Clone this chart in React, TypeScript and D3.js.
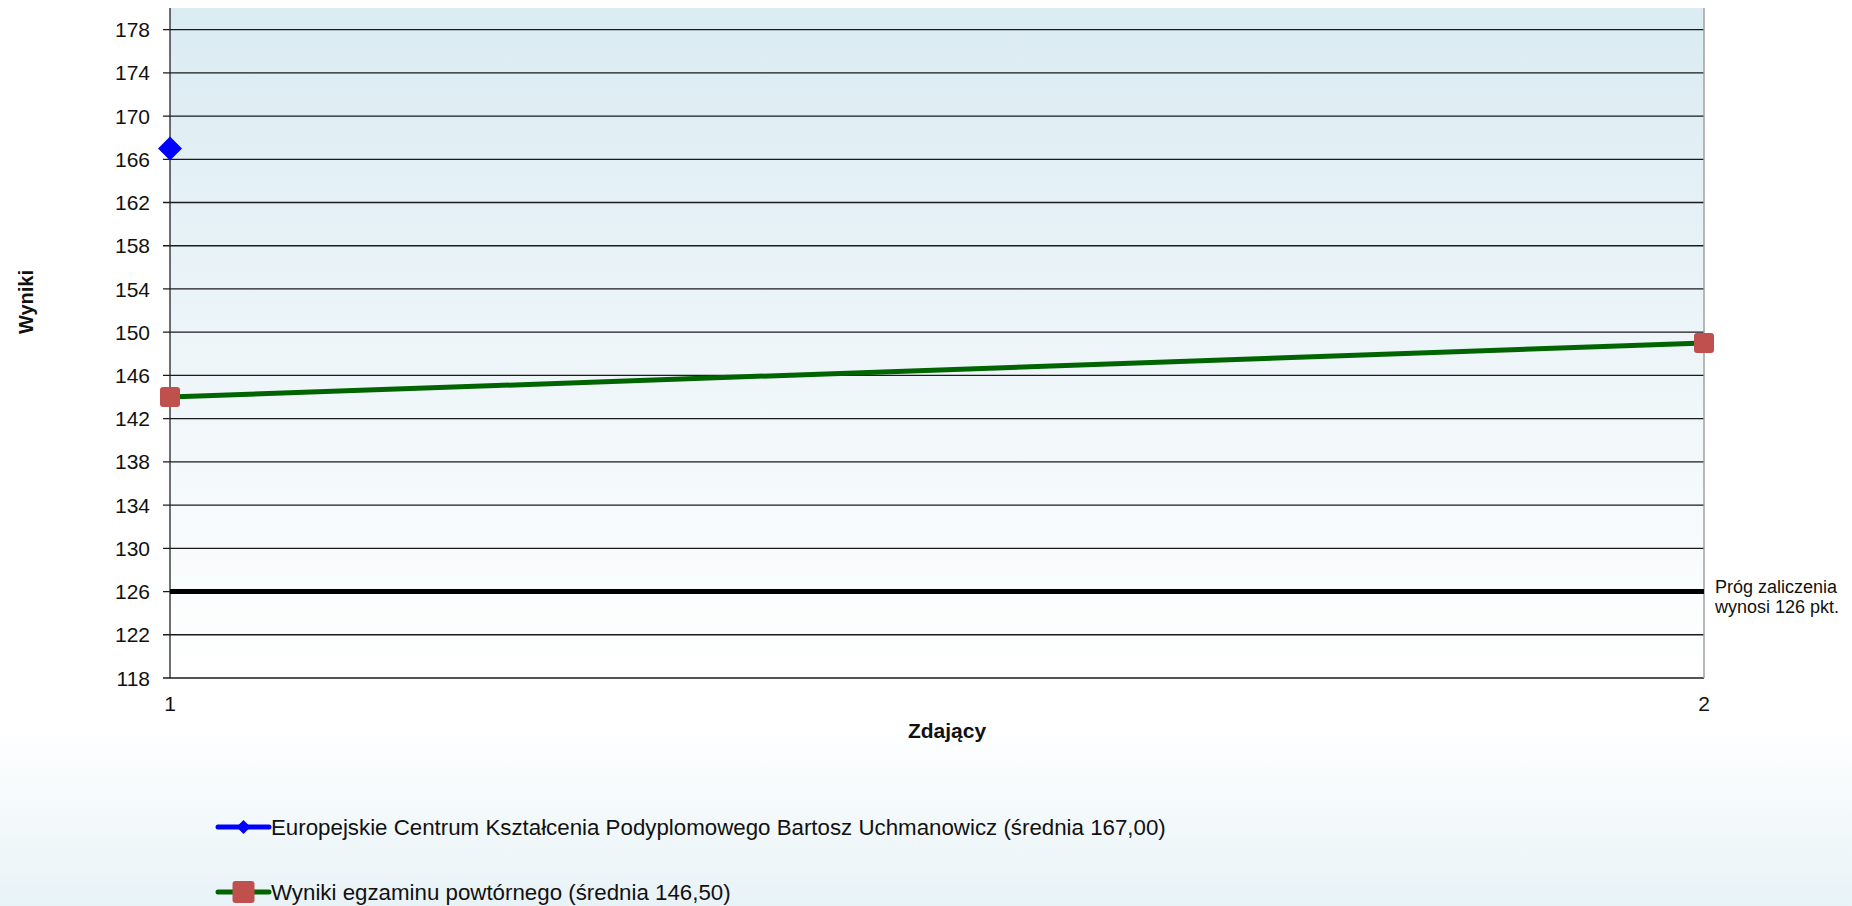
import React from "react";
import * as d3 from "d3";

const categories = [1, 2];
const seriesNames = [
  "Europejskie Centrum Kształcenia Podyplomowego Bartosz Uchmanowicz (średnia 167,00)",
  "Wyniki egzaminu powtórnego (średnia 146,50)",
];
const centerValues: (number | null)[] = [167, null];
const retakeValues: (number | null)[] = [144, 149];
const thresholdValue = 126;
const yTicks = [118, 122, 126, 130, 134, 138, 142, 146, 150, 154, 158, 162, 166, 170, 174, 178];
const thresholdLabel = ["Próg zaliczenia", "wynosi 126 pkt."];

const W = 1852;
const H = 906;
const FONT = "Arial, 'Liberation Sans', sans-serif";

export default function App() {
  const left = 170;
  const right = 1704;
  const top = 8;
  const bottom = 678;
  const x = d3.scaleLinear().domain([1, 2]).range([left, right]);
  const y = d3.scaleLinear().domain([118, 180]).range([bottom, top]);

  const line = d3
    .line<[number, number | null]>()
    .defined((d) => d[1] !== null)
    .x((d) => x(d[0]))
    .y((d) => y(d[1] as number));

  const retakePts: [number, number | null][] = categories.map((c, i) => [c, retakeValues[i]]);
  const centerPts: [number, number | null][] = categories.map((c, i) => [c, centerValues[i]]);

  const mid = x(1.5);
  const lgX1 = 218;
  const lgX2 = 269;
  const lgC = (lgX1 + lgX2) / 2;

  return (
    <div style={{ position: "fixed", left: 0, top: 0, width: W, height: H }}>
      <svg width={W} height={H} style={{ display: "block" }} fontFamily={FONT}>
        <defs>
          <linearGradient id="pageBg" x1="0" y1="0" x2="0" y2="1">
            <stop offset="0" stopColor="#ffffff" />
            <stop offset="0.8" stopColor="#ffffff" />
            <stop offset="1" stopColor="#e8f3f7" />
          </linearGradient>
          <linearGradient id="plotBg" x1="0" y1="0" x2="0" y2="1">
            <stop offset="0" stopColor="#daebf2" />
            <stop offset="1" stopColor="#ffffff" />
          </linearGradient>
          <linearGradient id="midLine" x1="0" y1="0" x2="0" y2="1">
            <stop offset="0" stopColor="#3d8bc8" />
            <stop offset="1" stopColor="#c8d6df" />
          </linearGradient>
        </defs>
        <rect x={0} y={0} width={W} height={H} fill="url(#pageBg)" />
        <rect x={left} y={top} width={right - left} height={bottom - top} fill="url(#plotBg)" />

        {yTicks.map((t) => (
          <line key={t} x1={left - 7} x2={right} y1={y(t)} y2={y(t)} stroke="#1a1a1a" strokeWidth={1.3} />
        ))}
        <line x1={mid} x2={mid} y1={top} y2={bottom} stroke="url(#midLine)" strokeWidth={1.5} />
        <line x1={right} x2={right} y1={top} y2={bottom} stroke="#a0a0a0" strokeWidth={1.5} />
        <line x1={left} x2={left} y1={top} y2={bottom} stroke="#222" strokeWidth={1.3} />

        {yTicks.map((t) => (
          <text key={t} x={150} y={y(t)} dy="0.36em" textAnchor="end" fontSize={21} fill="#111">
            {t}
          </text>
        ))}
        {categories.map((c) => (
          <text key={c} x={x(c)} y={711} textAnchor="middle" fontSize={21} fill="#111">
            {c}
          </text>
        ))}

        <line x1={left} x2={right} y1={y(thresholdValue)} y2={y(thresholdValue)} stroke="#000" strokeWidth={5} />
        {thresholdLabel.map((s, i) => (
          <text key={s} x={1715} y={593 + i * 20} fontSize={18} fill="#111">
            {s}
          </text>
        ))}

        <path d={line(retakePts) || ""} fill="none" stroke="#006400" strokeWidth={5} />
        {retakePts.map((d, i) =>
          d[1] === null ? null : (
            <rect key={i} x={x(d[0]) - 10} y={y(d[1]) - 10} width={20} height={20} rx={3} fill="#c0504d" />
          )
        )}

        <path d={line(centerPts) || ""} fill="none" stroke="#0000ff" strokeWidth={5} />
        {centerPts.map((d, i) =>
          d[1] === null ? null : (
            <path
              key={i}
              d={`M${x(d[0])},${y(d[1]) - 12}L${x(d[0]) + 12},${y(d[1])}L${x(d[0])},${y(d[1]) + 12}L${x(d[0]) - 12},${y(d[1])}Z`}
              fill="#0000ff"
            />
          )
        )}

        <text x={947} y={738} textAnchor="middle" fontSize={21} fontWeight="bold" fill="#111">
          Zdający
        </text>
        <text transform="translate(33,302) rotate(-90)" textAnchor="middle" fontSize={20} fontWeight="bold" fill="#111">
          Wyniki
        </text>

        <g>
          <line x1={lgX1} x2={lgX2} y1={827} y2={827} stroke="#0000ff" strokeWidth={5} strokeLinecap="round" />
          <path d={`M${lgC},820L${lgC + 7},827L${lgC},834L${lgC - 7},827Z`} fill="#0000ff" />
          <text x={271} y={827} dy="0.36em" fontSize={22.3} fill="#111">
            {seriesNames[0]}
          </text>
          <line x1={lgX1} x2={lgX2} y1={892} y2={892} stroke="#006400" strokeWidth={5} strokeLinecap="round" />
          <rect x={lgC - 11} y={881} width={22} height={22} rx={3} fill="#c0504d" />
          <text x={271} y={892} dy="0.36em" fontSize={22.3} fill="#111">
            {seriesNames[1]}
          </text>
        </g>
      </svg>
    </div>
  );
}
